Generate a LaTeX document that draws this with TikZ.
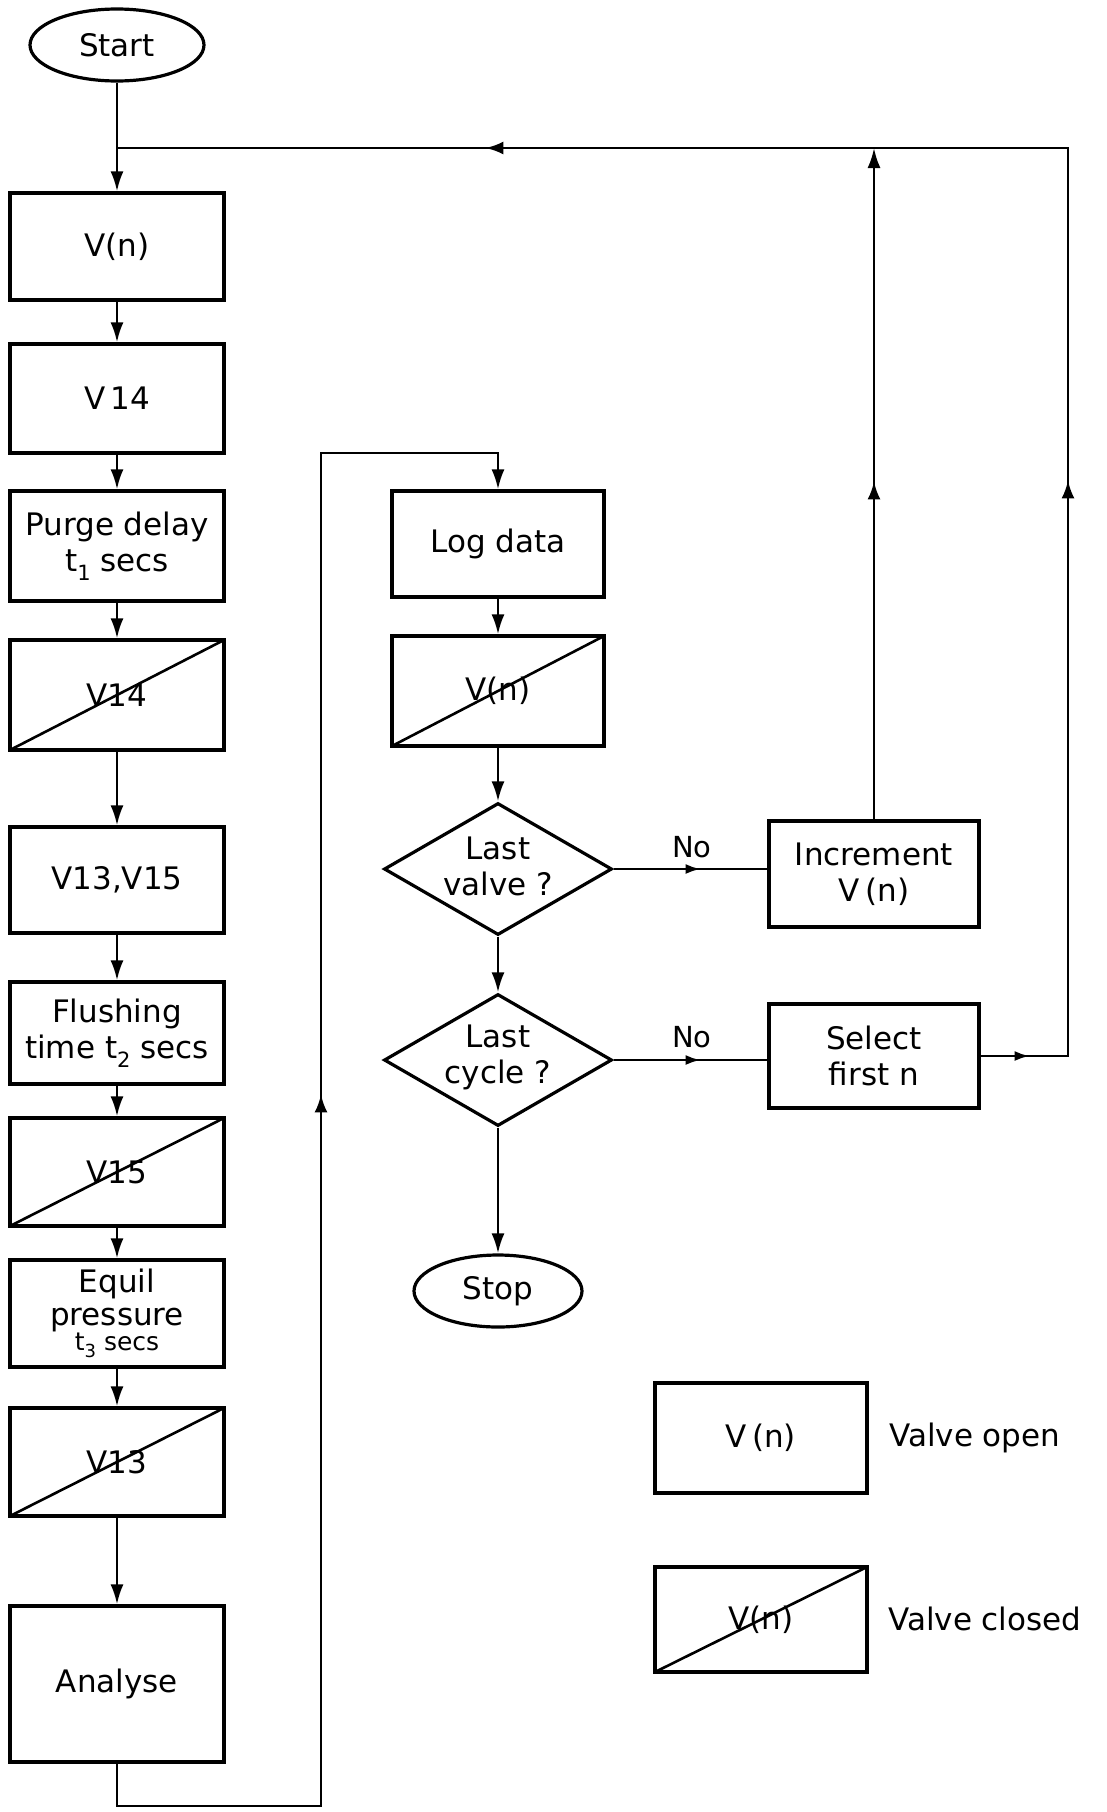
\documentclass[tikz,border=0pt]{standalone}
\usepackage{fontspec}
\setmainfont{DejaVu Sans}
\usetikzlibrary{arrows.meta,shapes.geometric,decorations.markings}
\newcommand{\tsub}[1]{\raisebox{-0.3em}{\fontsize{21}{21}\selectfont #1}}
\newcommand{\tsubs}[1]{\raisebox{-0.3em}{\fontsize{18}{18}\selectfont #1}}
\begin{document}
\begin{tikzpicture}[x=1pt,y=-1pt,
  every node/.append style={font=\fontsize{31}{36}\selectfont},
  line/.style={line width=2.6pt},
  tip/.style={-{Latex[length=20pt,width=13pt]}},
  box/.style={draw, rectangle, line width=3.2pt, inner sep=0pt, align=center},
  lbox/.style={box, minimum width=214pt},
  mbox/.style={box, minimum width=212pt},
  closed/.style={path picture={\draw[line width=2.6pt] (path picture bounding box.south west) -- (path picture bounding box.north east);}},
  ellip/.style={draw, ellipse, line width=3.2pt, inner sep=0pt},
  dia/.style={draw, diamond, line width=3.2pt, inner sep=0pt, minimum width=228pt, minimum height=132pt},
  txt/.style={inner sep=0pt, align=center},
  marr/.style={postaction={decorate, decoration={markings, mark=at position #1 with {\arrow{Latex[length=18pt,width=13pt]}}}}},
  smarr/.style={postaction={decorate, decoration={markings, mark=at position #1 with {\arrow{Latex[length=15pt,width=10pt]}}}}}
]
\useasboundingbox (0,0) rectangle (1106,1812);

% left column
\node[ellip, minimum width=174pt, minimum height=72pt] (start) at (117,45) {Start};
\node[lbox, minimum height=107pt] (vn) at (117,246.5) {V(n)};
\node[lbox, minimum height=109pt] (v14) at (117,398.5) {V\,14};
\node[lbox, minimum height=110pt] (purge) at (117,546) {Purge delay\\t\tsub{1} secs};
\node[lbox, closed, minimum height=110pt] (v14c) at (117,695) {V14};
\node[lbox, minimum height=106pt] (v1315) at (117,880) {V13,V15};
\node[lbox, minimum height=102pt] (flush) at (117,1033) {Flushing\\time t\tsub{2} secs};
\node[lbox, closed, minimum height=108pt] (v15c) at (117,1172) {V15};
\node[lbox, minimum height=107pt] (equil) at (117,1313.5) {Equil\\[-3pt]pressure\\[-11pt]{\fontsize{25}{25}\selectfont t\tsubs{3} secs}};
\node[lbox, closed, minimum height=108pt] (v13c) at (117,1462) {V13};
\node[lbox, minimum height=156pt] (ana) at (117,1684) {Analyse};

% middle column
\node[mbox, minimum height=106pt] (log) at (498,544) {Log data};
\node[mbox, closed, minimum height=110pt] (vnc) at (498,691) {V(n)};
\node[dia] (lv) at (498,869) {};
\node[txt] (lvt) at (498,866) {Last\\valve ?};
\node[dia] (lc) at (498,1060) {};
\node[txt] (lct) at (498,1057) {Last\\cycle ?};
\node[ellip, minimum width=168pt, minimum height=72pt] (stop) at (498,1291) {Stop};

% right column
\node[box, minimum width=210pt, minimum height=106pt] (inc) at (874,874) {Increment\\V\,(n)};
\node[box, minimum width=210pt, minimum height=104pt] (sel) at (874,1056) {Select\\first n};
\node[txt, font=\fontsize{29}{29}\selectfont] (no1) at (692,847) {No};
\node[txt, font=\fontsize{29}{29}\selectfont] (no2) at (692,1037) {No};

% legend
\node[box, minimum width=212pt, minimum height=110pt] (lgo) at (761,1438) {V\,(n)};
\node[box, closed, minimum width=212pt, minimum height=105pt] (lgc) at (761,1619.5) {V(n)};
\node[txt, anchor=west] (vo) at (889,1438) {Valve open};
\node[txt, anchor=west] (vcl) at (888,1619) {Valve closed};

% coordinates
\coordinate (J) at (117,148);
\coordinate (TI) at (874,148);
\coordinate (TR) at (1068,148);
\coordinate (BR) at (1068,1056);
\coordinate (BL) at (117,1806);
\coordinate (BM) at (321,1806);
\coordinate (UM) at (321,453);
\coordinate (UL) at (498,453);

% left column connectors
\draw[line, tip] (start) -- (vn);
\draw[line, tip] (vn) -- (v14);
\draw[line, tip] (v14) -- (purge);
\draw[line, tip] (purge) -- (v14c);
\draw[line, tip] (v14c) -- (v1315);
\draw[line, tip] (v1315) -- (flush);
\draw[line, tip] (flush) -- (v15c);
\draw[line, tip] (v15c) -- (equil);
\draw[line, tip] (equil) -- (v13c);
\draw[line, tip] (v13c) -- (ana);

% loop from analyse to log data
\draw[line, tip, marr=958pt] (ana.south) -- (BL) -- (BM) -- (UM) -- (UL) -- (log.north);

% middle column connectors
\draw[line, tip] (log) -- (vnc);
\draw[line, tip] (vnc) -- (lv);
\draw[line, tip] (lv) -- (lc);
\draw[line, tip] (lc) -- (stop);

% no branches
\draw[line, smarr=87pt] (lv.east) -- (lv.east -| inc.west);
\draw[line, smarr=87pt] (lc.east) -- (lc.east -| sel.west);

% returns
\draw[line, tip, marr=338pt] (inc.north) -- (TI);
\draw[line, smarr=49pt, marr=663pt, marr=1578pt] (sel.east) -- (BR) -- (TR) -- (J);
\end{tikzpicture}
\end{document}
